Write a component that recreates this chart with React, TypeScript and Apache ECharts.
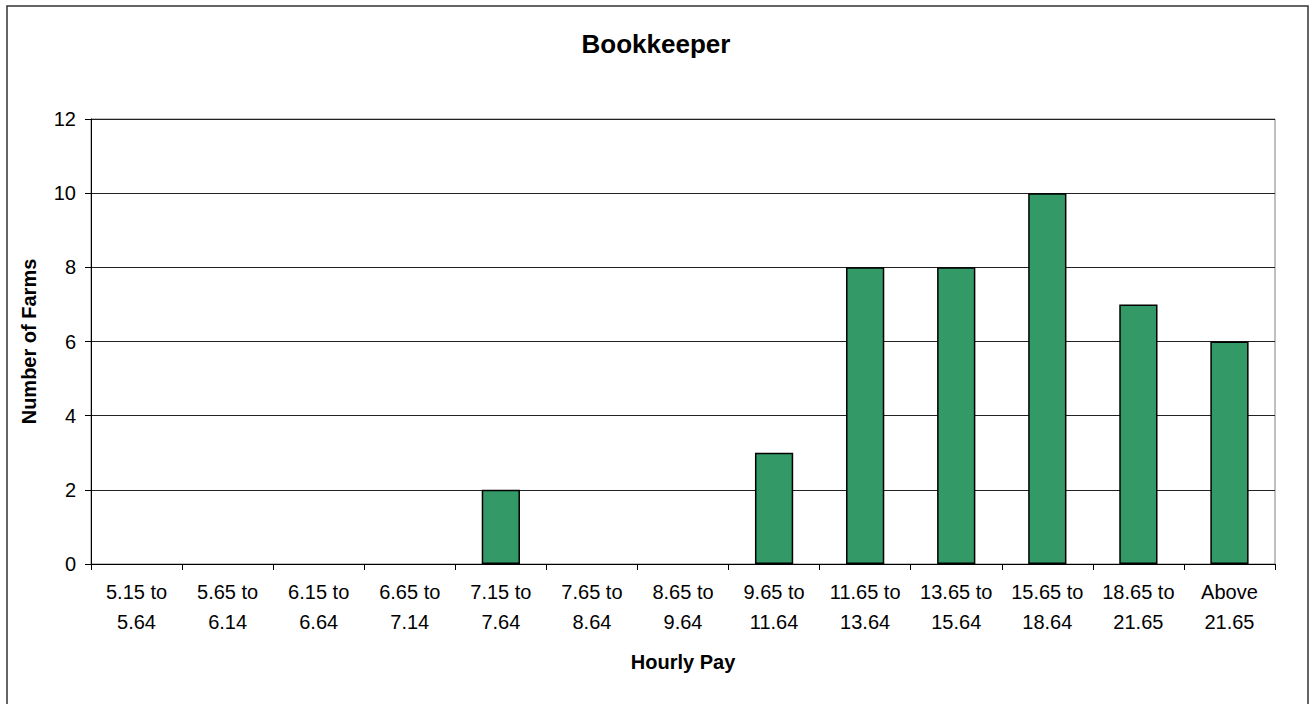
import React, { useEffect, useRef } from "react";
import * as echarts from "echarts";

const categories: string[] = [
  "5.15 to\n5.64",
  "5.65 to\n6.14",
  "6.15 to\n6.64",
  "6.65 to\n7.14",
  "7.15 to\n7.64",
  "7.65 to\n8.64",
  "8.65 to\n9.64",
  "9.65 to\n11.64",
  "11.65 to\n13.64",
  "13.65 to\n15.64",
  "15.65 to\n18.64",
  "18.65 to\n21.65",
  "Above\n21.65",
];
const farms: number[] = [0, 0, 0, 0, 2, 0, 0, 3, 8, 8, 10, 7, 6];

const FONT = "'Liberation Sans', Arial, sans-serif";

export default function App() {
  const ref = useRef<HTMLDivElement>(null);
  useEffect(() => {
    if (!ref.current) return;
    const chart = echarts.init(ref.current, undefined, { renderer: "svg" });
    chart.setOption({
      animation: false,
      backgroundColor: "#ffffff",
      textStyle: { fontFamily: FONT },
      title: {
        text: "Bookkeeper",
        left: "center",
        top: 26,
        textStyle: { fontSize: 26, fontWeight: "bold", color: "#000", fontFamily: FONT },
      },
      graphic: [
        {
          type: "rect",
          shape: { x: 7, y: 6, width: 1301, height: 720 },
          style: { fill: "none", stroke: "#333", lineWidth: 1.5 },
          silent: true,
        },
      ],
      grid: {
        left: 91,
        right: 37,
        top: 119,
        bottom: 140,
        show: true,
        borderColor: "#808080",
        borderWidth: 1,
        backgroundColor: "#fff",
      },
      xAxis: {
        type: "category",
        data: categories,
        boundaryGap: true,
        name: "Hourly Pay",
        nameLocation: "middle",
        nameGap: 88,
        nameMoveOverlap: false,
        nameTextStyle: { fontSize: 20, fontWeight: "bold", color: "#000", fontFamily: FONT },
        axisLine: { lineStyle: { color: "#000", width: 1 } },
        axisTick: { show: true, alignWithLabel: false, length: 6, lineStyle: { color: "#000" } },
        axisLabel: {
          interval: 0,
          fontSize: 20,
          color: "#000",
          lineHeight: 30,
          margin: 13,
          fontFamily: FONT,
        },
        splitLine: { show: false },
      },
      yAxis: {
        type: "value",
        min: 0,
        max: 12,
        interval: 2,
        name: "Number of Farms",
        nameLocation: "middle",
        nameGap: 52,
        nameRotate: 90,
        nameMoveOverlap: false,
        nameTextStyle: { fontSize: 20, fontWeight: "bold", color: "#000", fontFamily: FONT },
        axisLine: { show: true, lineStyle: { color: "#000", width: 1 } },
        axisTick: { show: true, length: 6, lineStyle: { color: "#000" } },
        axisLabel: { fontSize: 20, color: "#000", margin: 15, fontFamily: FONT },
        splitLine: { show: true, lineStyle: { color: "#222", width: 1 } },
      },
      series: [
        {
          type: "bar",
          data: farms.map((v) =>
            v === 0 ? { value: v, itemStyle: { borderWidth: 0, opacity: 0 } } : v
          ),
          barWidth: "42%",
          itemStyle: { color: "#339966", borderColor: "#000", borderWidth: 1.5 },
        },
      ],
    });
    return () => chart.dispose();
  }, []);
  return (
    <div
      ref={ref}
      style={{ position: "absolute", left: 0, top: 0, width: 1312, height: 704 }}
    />
  );
}
